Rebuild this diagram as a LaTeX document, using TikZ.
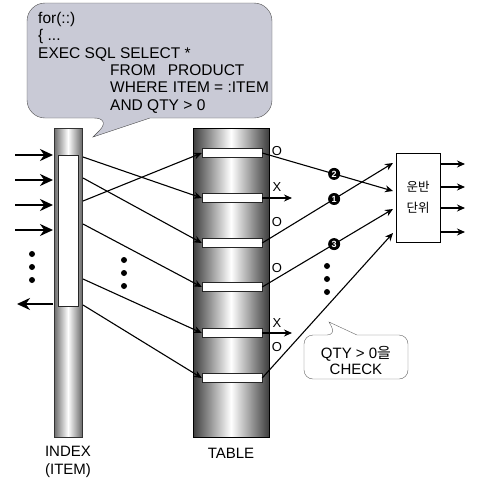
\documentclass[tikz,border=0pt]{standalone}
\usepackage{fontspec}
\setmainfont{Liberation Sans}
\newfontfamily\kofont{Noto Sans CJK KR}
\usetikzlibrary{arrows.meta,positioning}
\definecolor{bubble}{HTML}{C9CAD6}
\definecolor{rim}{HTML}{6A6A6A}
\definecolor{edge}{HTML}{3E3E3E}

\begin{document}
\begin{tikzpicture}[x=1pt,y=-1pt,
  conn/.style={line width=1.1pt,-{Stealth[length=8pt,width=7pt]}},
  feed/.style={line width=2.6pt,-{Stealth[length=13pt,width=12pt]}},
  slot/.style={draw=black!85,fill=white,minimum width=60pt,minimum height=9pt,inner sep=0pt},
  flag/.style={font=\fontsize{13}{13}\selectfont,inner sep=0pt},
  numdot/.style={circle,fill=black,text=white,inner sep=0pt,minimum size=12pt,font=\fontsize{9}{9}\selectfont\bfseries},
  code/.style={anchor=base west,inner sep=0pt,font=\fontsize{15.5}{15.5}\selectfont},
  caption/.style={font=\fontsize{15}{15}\selectfont,inner sep=0pt}]
  \useasboundingbox (0,0) rectangle (480,480);

  \draw[black!70,fill=bubble,rounded corners=18pt] (150,118) -- (272,118) -- (272,3) -- (27,3) -- (27,118) -- (112,118) [sharp corners] -- (93,137) -- cycle;
  \node[code] (c1) at (38,23.5) {for(::)};
  \node[code] (c2) at (38,40.8) {\{ ...};
  \node[code] (c3) at (38,58.1) {EXEC SQL SELECT *};
  \node[code] (c4) at (110,75.4) {FROM\hspace{12pt}PRODUCT};
  \node[code] (c5) at (110,92.7) {WHERE\hspace{5pt}ITEM = :ITEM};
  \node[code] (c6) at (110,110) {AND QTY > 0};

  \shade[draw=black!80,left color=rim,right color=rim,middle color=white] (54,128) rectangle (82,437);
  \node[draw=black!85,fill=white,minimum width=20pt,minimum height=151pt,inner sep=0pt] (win) at (68,230.5) {};
  \shade[draw=black,left color=edge,right color=edge,middle color=white] (193,128) rectangle (269,437);
  \foreach \y [count=\i] in {153,198,243,287,333,378}
    \node[slot] (s\i) at (232,\y) {};

  \foreach \y [count=\i] in {155,180,205,230} {
    \coordinate (in\i) at (15,\y);
    \coordinate (at\i) at (53,\y);
    \draw[feed] (in\i) -- (at\i);
  }
  \coordinate (back) at (53,304);
  \coordinate (away) at (17,304);
  \draw[feed] (back) -- (away);
  \foreach \y in {254,267,280}
    \fill (32,\y) circle[radius=3pt];

  \coordinate (i1) at (83,157);
  \coordinate (i2) at (83,178);
  \coordinate (i3) at (83,201);
  \coordinate (i4) at (83,224);
  \coordinate (i5) at (83,279);
  \coordinate (i6) at (83,305);
  \draw[conn] (i1) -- (s2.west);
  \draw[conn] (i2) -- (s3.west);
  \draw[conn] (i3) -- (s1.west);
  \draw[conn] (i4) -- (s4.west);
  \draw[conn] (i5) -- (s5.west);
  \draw[conn] (i6) -- (s6.west);
  \foreach \y in {260,273,286}
    \fill (124,\y) circle[radius=3pt];

  \node[flag] (l1) at (277,151) {O};
  \node[flag] (l2) at (277,187) {X};
  \node[flag] (l3) at (277,222) {O};
  \node[flag] (l4) at (277,268) {O};
  \node[flag] (l5) at (277,323) {X};
  \node[flag] (l6) at (277,347) {O};

  \node[draw,minimum width=44pt,minimum height=89pt,inner sep=0pt,align=center,
    font=\kofont\fontsize{12.5}{21}\selectfont] (unit) at (418,197.5) {운반\\단위};
  \coordinate (u1) at (393,163);
  \coordinate (u2) at (393,191);
  \coordinate (u3) at (393,209);
  \coordinate (u4) at (393,233);
  \draw[conn] (s1.east) -- node[numdot,pos=0.55] (n2) {2} (u2);
  \draw[conn] (s3.east) -- node[numdot,pos=0.55] (n1) {1} (u1);
  \draw[conn] (s4.east) -- node[numdot,pos=0.55] (n3) {3} (u3);
  \draw[conn] (s6.east) -- (u4);
  \coordinate (x1) at (292,198);
  \coordinate (x2) at (292,333);
  \draw[conn] (s2.east) -- (x1);
  \draw[conn] (s5.east) -- (x2);
  \foreach \y in {266,279,292}
    \fill (327,\y) circle[radius=3pt];
  \foreach \y [count=\i] in {164,187,208,232} {
    \coordinate (o\i) at (465,\y);
    \draw[conn] (unit.east |- o\i) -- (o\i);
  }

  \draw[black!60,fill=white,rounded corners=9pt] (357,335) -- (408,335) -- (408,379) -- (304,379) -- (304,335) -- (336,335) [sharp corners] -- (329,322) -- cycle;
  \node[align=center,inner sep=0pt,font=\fontsize{15}{16}\selectfont] (chk) at (356,360) {QTY > 0{\kofont 을}\\CHECK};

  \node[caption,align=center,font=\fontsize{15}{18}\selectfont] (idx) at (68,462) {INDEX\\(ITEM)};
  \node[caption] (tbl) at (231,453) {TABLE};
\end{tikzpicture}
\end{document}
